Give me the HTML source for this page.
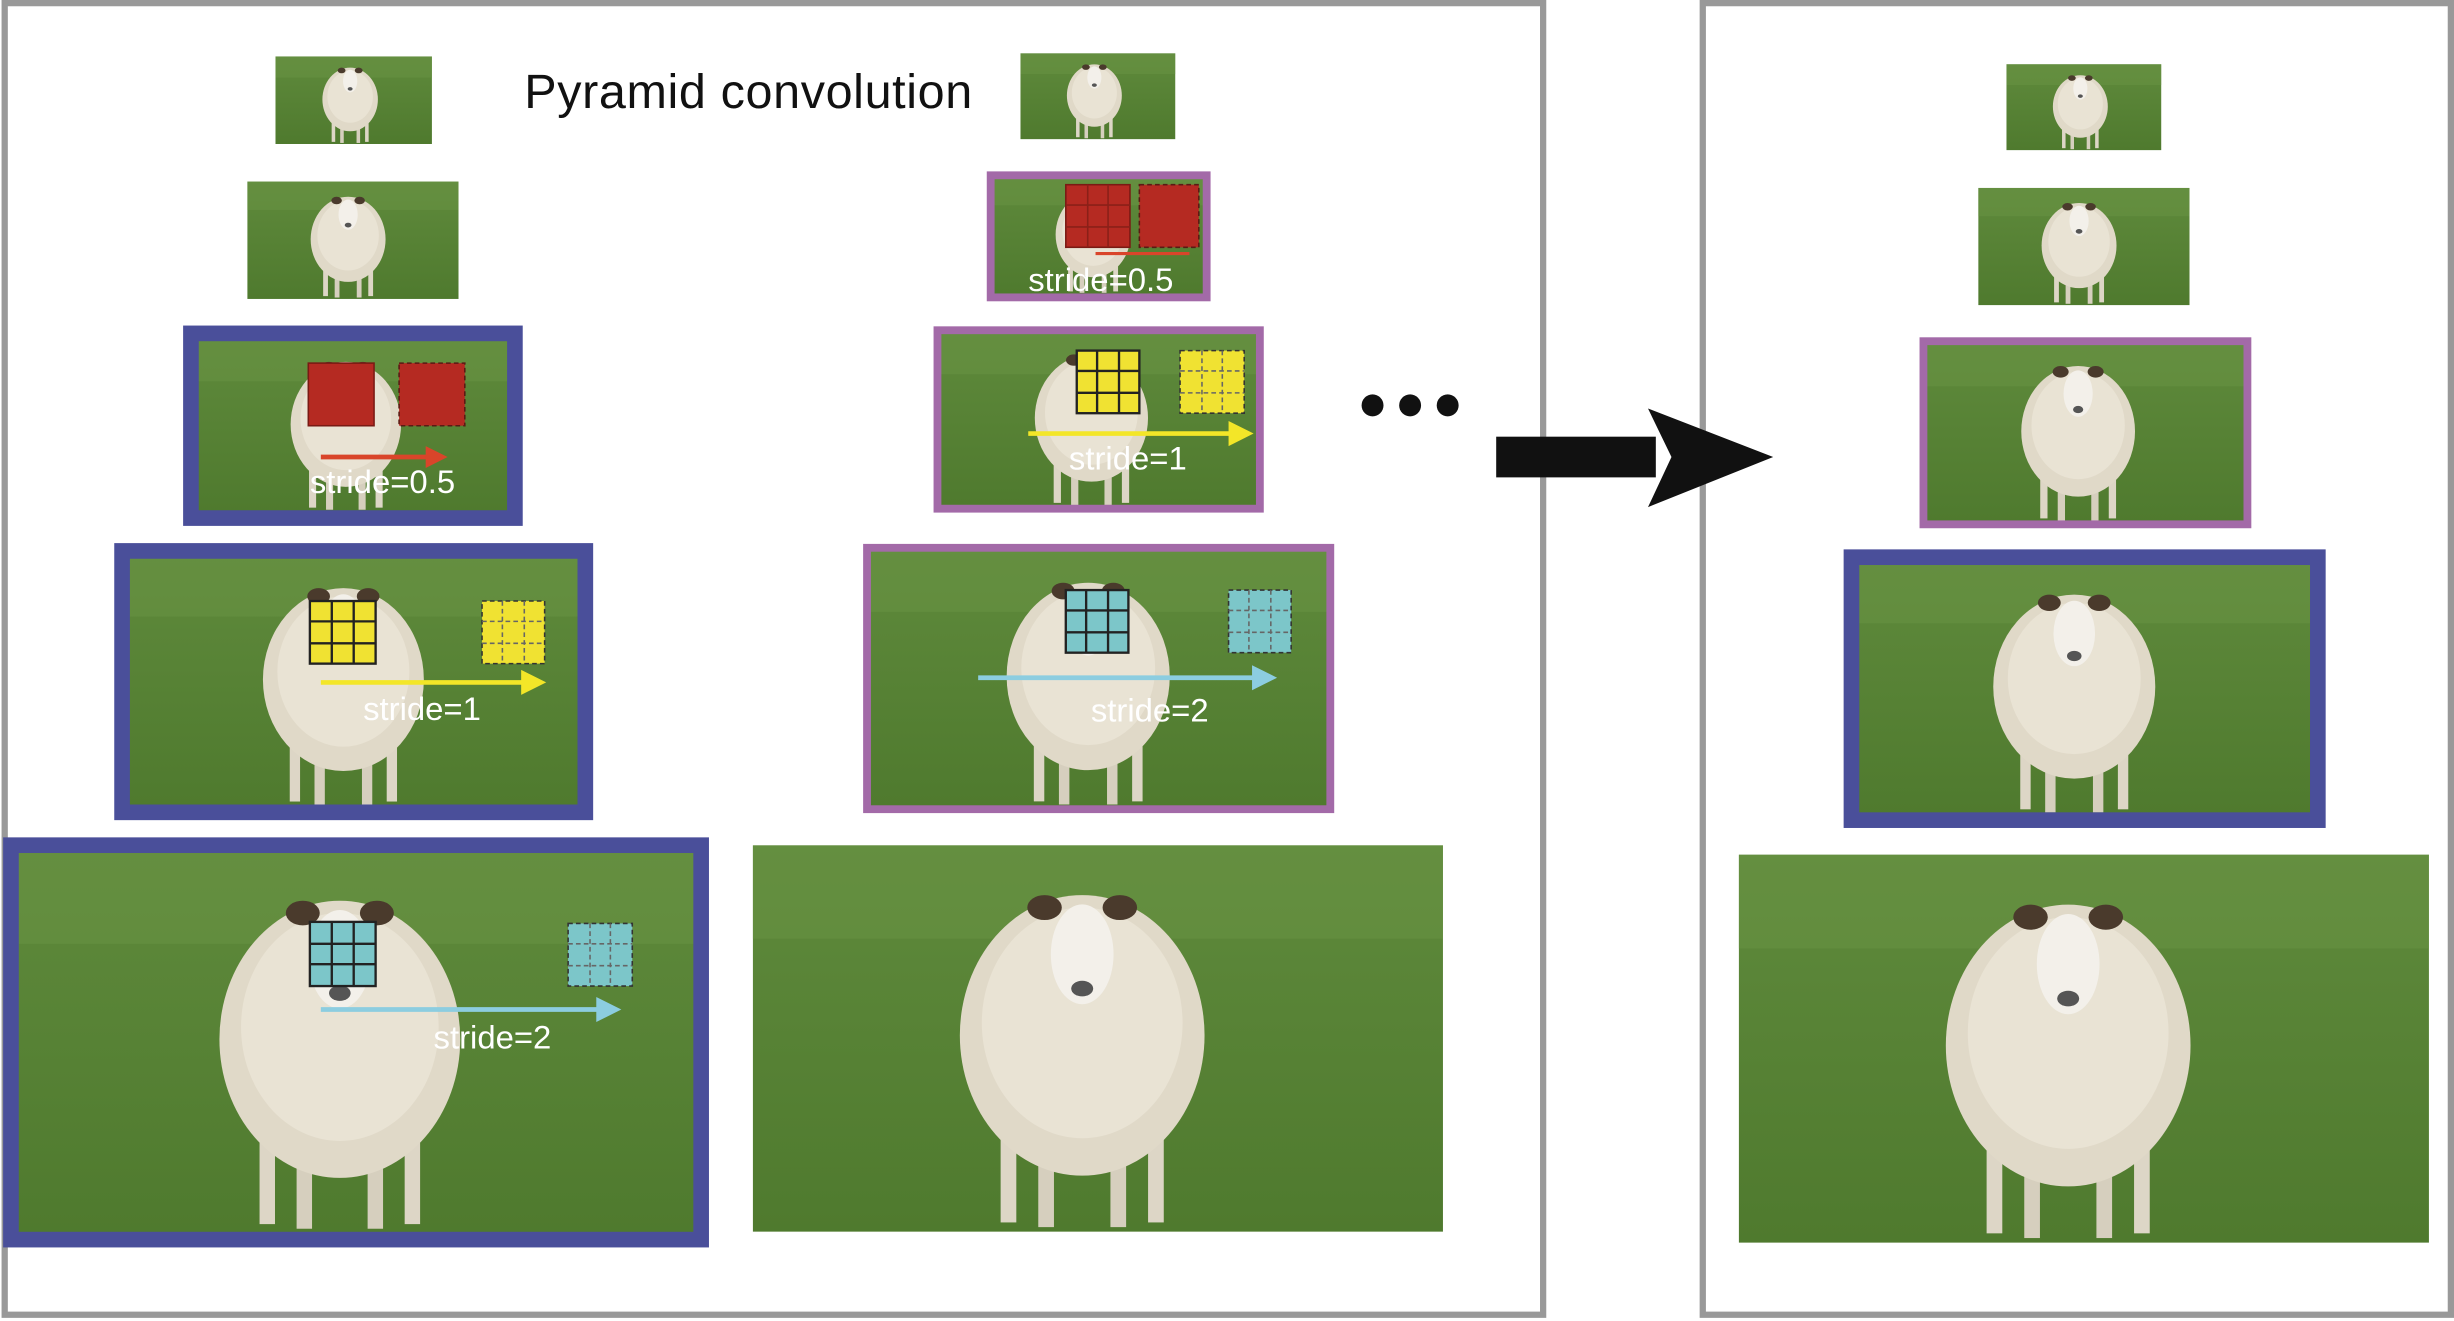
<!DOCTYPE html>
<html><head><meta charset="utf-8"><style>html,body{margin:0;padding:0;background:#fff}svg{display:block}</style></head>
<body>
<svg width="2454" height="1321" viewBox="0 0 1568 844" preserveAspectRatio="none" xmlns="http://www.w3.org/2000/svg">
<defs>
<linearGradient id="g" x1="0" y1="0" x2="0" y2="1"><stop offset="0" stop-color="#5f8a3c"/><stop offset="1" stop-color="#4f7a2e"/></linearGradient>
<symbol id="s" viewBox="0 0 440 248" preserveAspectRatio="none">
<rect width="440" height="248" fill="url(#g)"/>
<rect x="0" y="0" width="440" height="60" fill="#6a9444" opacity=".5"/>
<g transform="translate(34,0)">
<rect x="124" y="160" width="10" height="82" fill="#ddd6c6"/>
<rect x="148" y="165" width="10" height="80" fill="#d6cfbe"/>
<rect x="194" y="165" width="10" height="80" fill="#d6cfbe"/>
<rect x="218" y="160" width="10" height="82" fill="#ddd6c6"/>
<ellipse cx="176" cy="122" rx="78" ry="90" fill="#e0d9c8"/>
<ellipse cx="176" cy="114" rx="64" ry="74" fill="#e9e3d4"/>
<ellipse cx="176" cy="70" rx="20" ry="32" fill="#f3f0ea"/>
<ellipse cx="152" cy="40" rx="11" ry="8" fill="#4a3a2c"/>
<ellipse cx="200" cy="40" rx="11" ry="8" fill="#4a3a2c"/>
<ellipse cx="176" cy="92" rx="7" ry="5" fill="#555"/>
</g>
</symbol>
</defs>
<rect x="3" y="2" width="983" height="838" fill="none" stroke="#999" stroke-width="4"/>
<rect x="1088" y="2" width="478" height="838" fill="none" stroke="#999" stroke-width="4"/>
<text x="335" y="69" font-family="Liberation Sans, sans-serif" font-size="31" letter-spacing="0.4" fill="#111">Pyramid convolution</text>

<!-- left column -->
<use href="#s" x="176" y="36" width="100" height="56"/>
<use href="#s" x="158" y="116" width="135" height="75"/>
<use href="#s" x="126" y="217" width="199" height="110"/>
<rect x="122" y="213" width="207" height="118" fill="none" stroke="#4a4f9a" stroke-width="10"/>
<use href="#s" x="81" y="355" width="290" height="161"/>
<rect x="78" y="352" width="296" height="167" fill="none" stroke="#4a4f9a" stroke-width="10"/>
<use href="#s" x="10" y="544" width="434" height="244"/>
<rect x="7" y="540" width="441" height="252" fill="none" stroke="#4a4f9a" stroke-width="10"/>

<!-- middle column -->
<use href="#s" x="652" y="34" width="99" height="55"/>
<use href="#s" x="634" y="113" width="135" height="75"/>
<rect x="633" y="112" width="138" height="78" fill="none" stroke="#a36aa8" stroke-width="5"/>
<use href="#s" x="600" y="212" width="204" height="112"/>
<rect x="599" y="211" width="206" height="114" fill="none" stroke="#a36aa8" stroke-width="5"/>
<use href="#s" x="555" y="351" width="294" height="165"/>
<rect x="554" y="350" width="296" height="167" fill="none" stroke="#a36aa8" stroke-width="5"/>
<use href="#s" x="481" y="540" width="441" height="247"/>

<!-- right column -->
<use href="#s" x="1282" y="41" width="99" height="55"/>
<use href="#s" x="1264" y="120" width="135" height="75"/>
<use href="#s" x="1230" y="219" width="205" height="115"/>
<rect x="1229" y="218" width="207" height="117" fill="none" stroke="#a36aa8" stroke-width="5"/>
<use href="#s" x="1186" y="359" width="292" height="162"/>
<rect x="1183" y="356" width="298" height="168" fill="none" stroke="#4a4f9a" stroke-width="10"/>
<use href="#s" x="1111" y="546" width="441" height="248"/>

<!-- dots and arrow -->
<circle cx="877" cy="259" r="7" fill="#111"/><circle cx="901" cy="259" r="7" fill="#111"/><circle cx="925" cy="259" r="7" fill="#111"/>
<rect x="956" y="279" width="102" height="26" fill="#111"/>
<polygon points="1053,261 1133,292 1053,324 1068,292" fill="#111"/>

<g font-family="Liberation Sans, sans-serif" font-size="21" fill="#fff">
<rect x="197" y="232" width="42" height="40" fill="#b52a22" stroke="#7a1a14"/>
<rect x="255" y="232" width="42" height="40" fill="#b52a22" stroke="#5a1a14" stroke-dasharray="3,2"/>
<line x1="205" y1="292" x2="278" y2="292" stroke="#d9452a" stroke-width="3"/><polygon points="286,292 272,285 272,299" fill="#d9452a"/>
<text x="198" y="315">stride=0.5</text>
<rect x="198" y="384" width="42" height="40" fill="#f0e232" stroke="#222" stroke-width="1.5"/>
<path d="M212 384V424M226 384V424M198 397H240M198 411H240" stroke="#222" stroke-width="1.5"/>
<rect x="308" y="384" width="40" height="40" fill="#f0e232" stroke="#333" stroke-dasharray="3,2"/>
<path d="M321 384V424M335 384V424M308 397H348M308 411H348" stroke="#666" stroke-dasharray="3,2"/>
<line x1="205" y1="436" x2="336" y2="436" stroke="#f3e628" stroke-width="3"/><polygon points="349,436 333,428 333,444" fill="#f3e628"/>
<text x="232" y="460">stride=1</text>
<rect x="198" y="589" width="42" height="41" fill="#7cc6c9" stroke="#222" stroke-width="1.5"/>
<path d="M212 589V630M226 589V630M198 603H240M198 616H240" stroke="#222" stroke-width="1.5"/>
<rect x="363" y="590" width="41" height="40" fill="#7cc6c9" stroke="#333" stroke-dasharray="3,2"/>
<path d="M377 590V630M390 590V630M363 603H404M363 617H404" stroke="#666" stroke-dasharray="3,2"/>
<line x1="205" y1="645" x2="384" y2="645" stroke="#8ccde0" stroke-width="3"/><polygon points="397,645 381,637 381,653" fill="#8ccde0"/>
<text x="277" y="670">stride=2</text>
<rect x="681" y="118" width="41" height="40" fill="#b52a22" stroke="#7a1a14"/>
<path d="M695 118V158M708 118V158M681 131H722M681 145H722" stroke="#8a2018"/>
<rect x="728" y="118" width="38" height="40" fill="#b52a22" stroke="#5a1a14" stroke-dasharray="3,2"/>
<line x1="700" y1="162" x2="760" y2="162" stroke="#d9452a" stroke-width="2"/>
<text x="657" y="186">stride=0.5</text>
<rect x="688" y="224" width="40" height="40" fill="#f0e232" stroke="#222" stroke-width="1.5"/>
<path d="M701 224V264M715 224V264M688 237H728M688 251H728" stroke="#222" stroke-width="1.5"/>
<rect x="754" y="224" width="41" height="40" fill="#f0e232" stroke="#333" stroke-dasharray="3,2"/>
<path d="M768 224V264M781 224V264M754 237H795M754 251H795" stroke="#666" stroke-dasharray="3,2"/>
<line x1="657" y1="277" x2="788" y2="277" stroke="#f3e628" stroke-width="3"/><polygon points="801,277 785,269 785,285" fill="#f3e628"/>
<text x="683" y="300">stride=1</text>
<rect x="681" y="377" width="40" height="40" fill="#7cc6c9" stroke="#222" stroke-width="1.5"/>
<path d="M694 377V417M708 377V417M681 390H721M681 404H721" stroke="#222" stroke-width="1.5"/>
<rect x="785" y="377" width="40" height="40" fill="#7cc6c9" stroke="#333" stroke-dasharray="3,2"/>
<path d="M798 377V417M812 377V417M785 390H825M785 404H825" stroke="#666" stroke-dasharray="3,2"/>
<line x1="625" y1="433" x2="802" y2="433" stroke="#8ccde0" stroke-width="3"/><polygon points="816,433 800,425 800,441" fill="#8ccde0"/>
<text x="697" y="461">stride=2</text>
</g>
</svg>
</body></html>
